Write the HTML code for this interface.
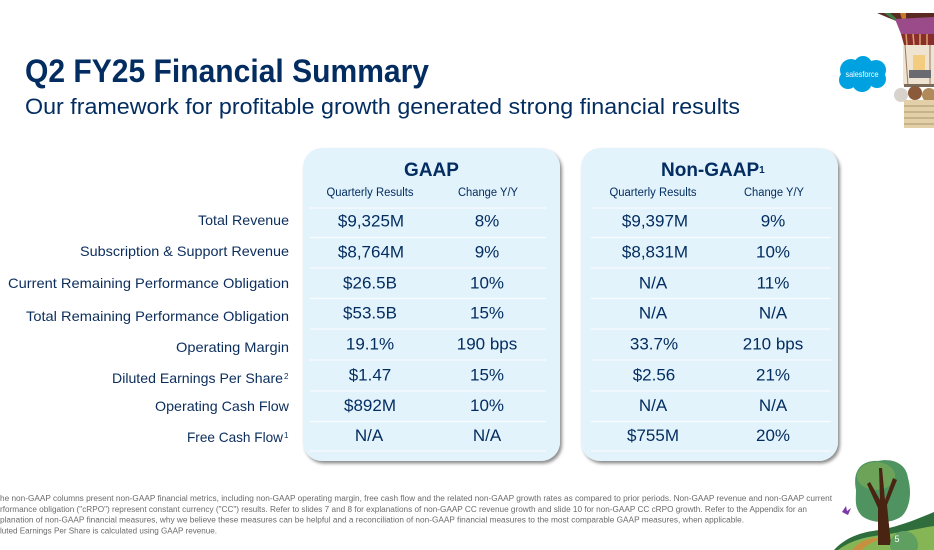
<!DOCTYPE html>
<html>
<head>
<meta charset="utf-8">
<style>
html,body{margin:0;padding:0;background:#fff;}
body{width:934px;height:550px;overflow:hidden;}
svg{display:block;}
text{font-family:"Liberation Sans",sans-serif;}
</style>
</head>
<body>
<svg width="934" height="550" viewBox="0 0 934 550" xmlns="http://www.w3.org/2000/svg">
  <defs>
    <filter id="sh" x="-10%" y="-10%" width="120%" height="120%">
      <feDropShadow dx="2" dy="2.5" stdDeviation="1.6" flood-color="#000" flood-opacity="0.45"/>
    </filter>
  </defs>
  <rect width="934" height="550" fill="#fff"/>

  <!-- Title -->
  <text x="25" y="82" font-size="32" font-weight="bold" fill="#032d60" textLength="404" lengthAdjust="spacingAndGlyphs">Q2 FY25 Financial Summary</text>
  <text x="25" y="114" font-size="22" fill="#032d60" textLength="715" lengthAdjust="spacingAndGlyphs">Our framework for profitable growth generated strong financial results</text>

  <!-- Panels -->
  <rect x="303" y="148" width="257" height="313" rx="19" ry="19" fill="#e3f3fc" filter="url(#sh)"/>
  <rect x="581" y="148" width="257" height="313" rx="19" ry="19" fill="#e3f3fc" filter="url(#sh)"/>

  <!-- divider lines -->
  <g stroke="#f7fcff" stroke-width="1.3">
    <line x1="310" y1="208" x2="546" y2="208"/>
    <line x1="310" y1="237.5" x2="546" y2="237.5"/>
    <line x1="310" y1="268" x2="546" y2="268"/>
    <line x1="310" y1="298.5" x2="546" y2="298.5"/>
    <line x1="310" y1="329" x2="546" y2="329"/>
    <line x1="310" y1="360" x2="546" y2="360"/>
    <line x1="310" y1="391" x2="546" y2="391"/>
    <line x1="310" y1="421.5" x2="546" y2="421.5"/>
    <line x1="310" y1="451" x2="546" y2="451"/>
    <line x1="591" y1="208" x2="831" y2="208"/>
    <line x1="591" y1="237.5" x2="831" y2="237.5"/>
    <line x1="591" y1="268" x2="831" y2="268"/>
    <line x1="591" y1="298.5" x2="831" y2="298.5"/>
    <line x1="591" y1="329" x2="831" y2="329"/>
    <line x1="591" y1="360" x2="831" y2="360"/>
    <line x1="591" y1="391" x2="831" y2="391"/>
    <line x1="591" y1="421.5" x2="831" y2="421.5"/>
    <line x1="591" y1="451" x2="831" y2="451"/>
  </g>

  <!-- Panel headers -->
  <text x="431.5" y="176" font-size="19" font-weight="bold" fill="#032d60" text-anchor="middle">GAAP</text>
  <text x="661" y="176" font-size="19" font-weight="bold" fill="#032d60">Non-GAAP<tspan font-size="10" dy="-3">1</tspan></text>

  <g font-size="11.5" fill="#032d60" text-anchor="middle">
    <text x="370" y="196" textLength="87" lengthAdjust="spacingAndGlyphs">Quarterly Results</text>
    <text x="488" y="196" textLength="60" lengthAdjust="spacingAndGlyphs">Change Y/Y</text>
    <text x="653" y="196" textLength="87" lengthAdjust="spacingAndGlyphs">Quarterly Results</text>
    <text x="774" y="196" textLength="60" lengthAdjust="spacingAndGlyphs">Change Y/Y</text>
  </g>

  <!-- Row labels -->
  <g font-size="14" fill="#0b2d5c" text-anchor="end">
    <text x="289" y="225" textLength="91" lengthAdjust="spacingAndGlyphs">Total Revenue</text>
    <text x="289" y="256" textLength="209" lengthAdjust="spacingAndGlyphs">Subscription &amp; Support Revenue</text>
    <text x="289" y="288" textLength="281" lengthAdjust="spacingAndGlyphs">Current Remaining Performance Obligation</text>
    <text x="289" y="321" textLength="263" lengthAdjust="spacingAndGlyphs">Total Remaining Performance Obligation</text>
    <text x="289" y="352" textLength="113" lengthAdjust="spacingAndGlyphs">Operating Margin</text>
    <text x="283" y="383" textLength="171" lengthAdjust="spacingAndGlyphs">Diluted Earnings Per Share</text>
    <text x="289" y="411" textLength="134" lengthAdjust="spacingAndGlyphs">Operating Cash Flow</text>
    <text x="283" y="442" textLength="96" lengthAdjust="spacingAndGlyphs">Free Cash Flow</text>
  </g>
  <text x="284" y="379" font-size="8" fill="#0b2d5c">2</text>
  <text x="284" y="438" font-size="8" fill="#0b2d5c">1</text>

  <!-- Values -->
  <g font-size="17" fill="#032d60" text-anchor="middle">
    <text x="371" y="226.5">$9,325M</text>
    <text x="487" y="226.5">8%</text>
    <text x="371" y="257.5">$8,764M</text>
    <text x="487" y="257.5">9%</text>
    <text x="370" y="288.5">$26.5B</text>
    <text x="487" y="288.5">10%</text>
    <text x="370" y="318.5">$53.5B</text>
    <text x="487" y="318.5">15%</text>
    <text x="370" y="349.5">19.1%</text>
    <text x="487" y="349.5">190 bps</text>
    <text x="370" y="380.5">$1.47</text>
    <text x="487" y="380.5">15%</text>
    <text x="370" y="411">$892M</text>
    <text x="487" y="411">10%</text>
    <text x="369" y="441">N/A</text>
    <text x="487" y="441">N/A</text>

    <text x="655" y="226.5">$9,397M</text>
    <text x="773" y="226.5">9%</text>
    <text x="655" y="257.5">$8,831M</text>
    <text x="773" y="257.5">10%</text>
    <text x="653" y="288.5">N/A</text>
    <text x="773" y="288.5">11%</text>
    <text x="653" y="318.5">N/A</text>
    <text x="773" y="318.5">N/A</text>
    <text x="654" y="349.5">33.7%</text>
    <text x="773" y="349.5">210 bps</text>
    <text x="654" y="380.5">$2.56</text>
    <text x="773" y="380.5">21%</text>
    <text x="653" y="411">N/A</text>
    <text x="773" y="411">N/A</text>
    <text x="653" y="441">$755M</text>
    <text x="773" y="441">20%</text>
  </g>

  <!-- Footnotes -->
  <g font-size="8" fill="#6b6b6b">
    <text x="0" y="501" textLength="832" lengthAdjust="spacingAndGlyphs">he non-GAAP columns present non-GAAP financial metrics, including non-GAAP operating margin, free cash flow and the related non-GAAP growth rates as compared to prior periods. Non-GAAP revenue and non-GAAP current</text>
    <text x="0" y="512" textLength="807" lengthAdjust="spacingAndGlyphs">rformance obligation ("cRPO") represent constant currency ("CC") results. Refer to slides 7 and 8 for explanations of non-GAAP CC revenue growth and slide 10 for non-GAAP CC cRPO growth. Refer to the Appendix for an</text>
    <text x="0" y="522.5" textLength="744" lengthAdjust="spacingAndGlyphs">planation of non-GAAP financial measures, why we believe these measures can be helpful and a reconciliation of non-GAAP financial measures to the most comparable GAAP measures, when applicable.</text>
    <text x="0" y="533.5" textLength="217" lengthAdjust="spacingAndGlyphs">luted Earnings Per Share is calculated using GAAP revenue.</text>
  </g>

  <!-- Salesforce cloud logo -->
  <g fill="#00a1e0">
    <circle cx="851" cy="70" r="11"/>
    <circle cx="863" cy="65" r="9"/>
    <circle cx="876" cy="70" r="10"/>
    <circle cx="848" cy="80" r="9"/>
    <circle cx="862" cy="82" r="10"/>
    <circle cx="877" cy="79" r="9"/>
    <rect x="846" y="66" width="32" height="20"/>
  </g>
  <text x="862" y="77" font-size="8.5" fill="#fff" text-anchor="middle" textLength="33" lengthAdjust="spacingAndGlyphs">salesforce</text>

  <!-- Balloon -->
  <polygon points="877,13 934,13 934,19 896,21" fill="#5a2a22"/>
  <polygon points="884,13 890,13 898,20 894,20" fill="#3e7a4a"/>
  <polygon points="900,13 906,13 906,19 902,19" fill="#c9782e"/>
  <polygon points="895,19 934,17 934,34 901,34" fill="#9b4b8a"/>
  <polygon points="901,34 934,34 934,45 904,45" fill="#8a2e2a"/>
  <g stroke="#d8a070" stroke-width="1.5">
    <line x1="906" y1="34" x2="907" y2="45"/><line x1="913" y1="34" x2="914" y2="45"/>
    <line x1="920" y1="34" x2="920" y2="45"/><line x1="927" y1="34" x2="927" y2="45"/>
  </g>
  <rect x="903" y="45" width="31" height="40" fill="#efe3d2"/>
  <g stroke="#9a7a60" stroke-width="1">
    <line x1="905" y1="45" x2="908" y2="85"/><line x1="930" y1="45" x2="930" y2="85"/>
  </g>
  <rect x="913" y="55" width="12" height="20" fill="#f4c66a" opacity="0.8"/>
  <rect x="909" y="70" width="22" height="8" fill="#6a6a72"/>
  <rect x="904" y="84" width="30" height="3" fill="#7a6a5a"/>
  <circle cx="901" cy="95" r="7" fill="#d8d2cc"/>
  <circle cx="915" cy="93" r="7" fill="#8a5a3a"/>
  <circle cx="929" cy="95" r="7" fill="#b08a5a"/>
  <rect x="904" y="100" width="30" height="28" fill="#e3d0a8"/>
  <g stroke="#b8a078" stroke-width="1.2">
    <line x1="904" y1="106" x2="934" y2="106"/><line x1="904" y1="112" x2="934" y2="112"/>
    <line x1="904" y1="118" x2="934" y2="118"/><line x1="904" y1="124" x2="934" y2="124"/>
  </g>

  <!-- Tree scene -->
  <path d="M834,550 C845,538 860,532 880,530 C900,526 915,520 934,512 L934,550 Z" fill="#2f6e3c"/>
  <path d="M838,550 C850,541 864,537 882,535 C905,532 920,528 934,526 L934,550 Z" fill="#86b556"/>
  <path d="M852,550 C858,543 866,538 876,538 L884,538 C874,541 866,545 862,550 Z" fill="#c8903e"/>
  <path d="M856,490 C852,470 862,460 878,461 C890,458 906,462 908,478 C912,492 910,508 902,516 C892,524 872,524 862,516 C854,508 856,500 856,490 Z" fill="#4f9460"/>
  <ellipse cx="876" cy="476" rx="19" ry="14" fill="#79aa55" opacity="0.7"/>
  <path d="M878,545 L891,545 L887,505 L897,480 L893,478 L885,500 L882,468 L879,468 L880,500 L870,482 L867,484 L878,508 Z" fill="#4a2412"/>
  <circle cx="904" cy="545" r="14" fill="#5f9f60"/>
  <path d="M842,512 l4,-6 l1,5 l4,-3 l-3,7 z" fill="#7a3aa8"/>
  <text x="897" y="542" font-size="9" fill="#fff" text-anchor="middle">5</text>
</svg>
</body>
</html>
